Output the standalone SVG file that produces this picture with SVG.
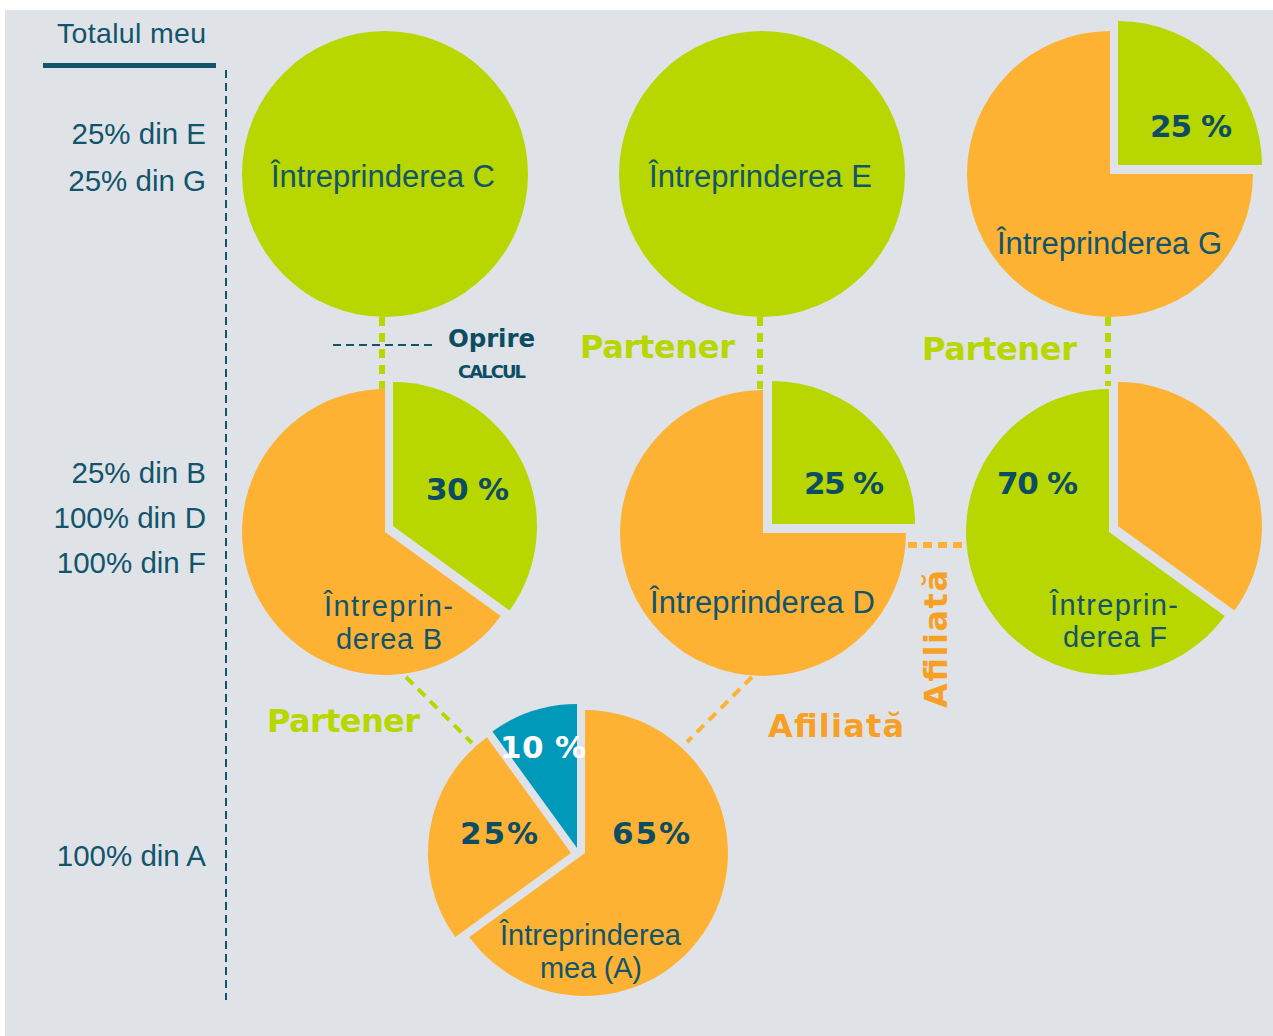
<svg xmlns="http://www.w3.org/2000/svg" width="1273" height="1036" viewBox="0 0 1273 1036">
<style>
.bg{fill:#ffffff}
.panel{fill:#dfe3e7}
.g{fill:#b8d600}
.o{fill:#fdb234}
.b{fill:#0099b9}
.lbl{font-family:"Liberation Sans",Arial,sans-serif;font-size:31px;fill:#12546b}
.lbl2{font-family:"Liberation Sans",Arial,sans-serif;font-size:29px;fill:#12546b}
.side{font-family:"Liberation Sans",Arial,sans-serif;font-size:29.5px;fill:#12546b;text-anchor:end}
.pct{font-family:"DejaVu Sans",sans-serif;font-weight:bold;font-size:31px;fill:#0c4d63}
.rel{font-family:"DejaVu Sans",sans-serif;font-weight:bold;font-size:32px}
.gt{fill:#b8d600}
.ot{fill:#f7a025}
.cg{stroke:#b8d600;stroke-width:6;stroke-dasharray:9 7;fill:none}
.cgt{stroke:#b8d600;stroke-width:4;stroke-dasharray:10 7;fill:none}
.co{stroke:#fdb234;stroke-width:6;stroke-dasharray:9 6;fill:none}
.cot{stroke:#fdb234;stroke-width:4;stroke-dasharray:10 7;fill:none}
.ct{stroke:#12546b;stroke-width:2;stroke-dasharray:8 5;fill:none}
</style>
<rect class="bg" x="0" y="0" width="1273" height="1036"/>
<rect class="panel" x="5" y="10" width="1268" height="1026"/>

<g id="legend">
<text class="lbl" x="57" y="43" style="font-size:28.5px" textLength="149">Totalul meu</text>
<rect x="43" y="63" width="173" height="5" fill="#12546b"/>
<line class="ct" x1="226" y1="70" x2="226" y2="1000"/>
<text class="side" x="206" y="144">25% din E</text>
<text class="side" x="206" y="191">25% din G</text>
<text class="side" x="206" y="483">25% din B</text>
<text class="side" x="206" y="528">100% din D</text>
<text class="side" x="206" y="573">100% din F</text>
<text class="side" x="206" y="866">100% din A</text>
</g>

<g id="connectors">
<line class="cg" x1="382" y1="317" x2="382" y2="389"/>
<line class="ct" x1="333" y1="345" x2="433" y2="345"/>
<line class="cg" x1="760" y1="317" x2="760" y2="389"/>
<line class="cg" x1="1108" y1="317" x2="1108" y2="386"/>
<line class="co" x1="908" y1="545" x2="966" y2="545"/>
<line class="cgt" x1="406" y1="677" x2="472" y2="743"/>
<line class="cot" x1="752" y1="677" x2="687" y2="742"/>
<text class="pct" x="448" y="347" style="font-size:24.5px" textLength="87">Oprire</text>
<text class="pct" x="458" y="378" style="font-size:18px" textLength="68">CALCUL</text>
<text class="rel gt" x="580" y="358" textLength="155">Partener</text>
<text class="rel gt" x="922" y="360" textLength="155">Partener</text>
<text class="rel gt" x="267" y="732" textLength="153">Partener</text>
<text class="rel ot" x="768" y="737" textLength="136">Afiliată</text>
<text class="rel ot" transform="translate(947,708) rotate(-90)" x="0" y="0" textLength="138">Afiliată</text>
</g>

<g id="nodeC">
<circle class="g" cx="385" cy="174" r="143"/>
<text class="lbl" x="271" y="187" textLength="224">Întreprinderea C</text>
</g>

<g id="nodeE">
<circle class="g" cx="762" cy="174" r="143"/>
<text class="lbl" x="649" y="187" textLength="223">Întreprinderea E</text>
</g>

<g id="nodeG">
<path class="o" d="M1110 174 L1253 174 A143 143 0 1 1 1110 31 Z"/>
<path class="g" d="M1118 165 L1118 21 A144 144 0 0 1 1262 165 Z"/>
<text class="pct" x="1150" y="137" textLength="82">25 %</text>
<text class="lbl" x="997" y="254" textLength="225">Întreprinderea G</text>
</g>

<g id="nodeB">
<path class="o" d="M385 532 L500.7 616.1 A143 143 0 1 1 385 389 Z"/>
<path class="g" d="M393 526 L393 382 A144 144 0 0 1 509.5 610.6 Z"/>
<text class="pct" x="426" y="500" textLength="83">30 %</text>
<text class="lbl2" x="324" y="616" textLength="129">Întreprin-</text>
<text class="lbl2" x="336" y="649" textLength="106">derea B</text>
</g>

<g id="nodeD">
<path class="o" d="M763 533 L906 533 A143 143 0 1 1 763 390 Z"/>
<path class="g" d="M772 524 L772 381 A143 143 0 0 1 915 524 Z"/>
<text class="pct" x="804" y="494" textLength="80">25 %</text>
<text class="lbl" x="650" y="613" textLength="225">Întreprinderea D</text>
</g>

<g id="nodeF">
<path class="g" d="M1109 532 L1224.7 616.1 A143 143 0 1 1 1109 389 Z"/>
<path class="o" d="M1118 526 L1118 382 A144 144 0 0 1 1234.5 610.6 Z"/>
<text class="pct" x="997" y="494" textLength="81">70 %</text>
<text class="lbl2" x="1050" y="615" textLength="128">Întreprin-</text>
<text class="lbl2" x="1063" y="647" textLength="104">derea F</text>
</g>

<g id="nodeA">
<path class="o" d="M585 853 L585 710 A143 143 0 1 1 469.3 937.1 Z"/>
<path class="o" d="M571 853 L455.3 937.1 A143 143 0 0 1 486.9 737.3 Z"/>
<path class="b" d="M577 848 L492.4 731.5 A144 144 0 0 1 577 704 Z"/>
<text class="pct" x="500" y="758" style="fill:#ffffff" textLength="86">10 %</text>
<text class="pct" x="460" y="844" textLength="78">25%</text>
<text class="pct" x="612" y="844" textLength="78">65%</text>
<text class="lbl2" x="500" y="945" textLength="181">Întreprinderea</text>
<text class="lbl2" x="540" y="978" textLength="102">mea (A)</text>
</g>
</svg>
